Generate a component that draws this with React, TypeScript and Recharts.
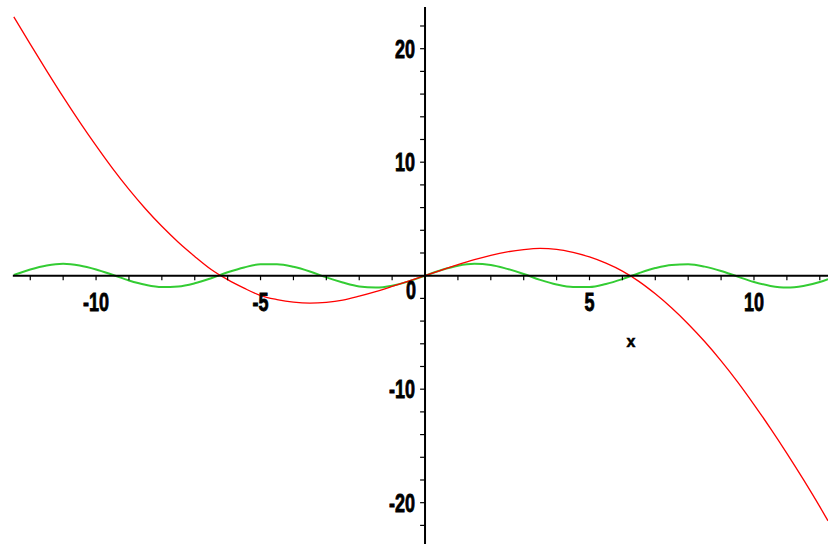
import { LineChart, Line, XAxis, YAxis, ReferenceLine, ReferenceDot } from "recharts";

const xs = [
  -12.5, -12, -11.5, -11, -10.5, -10, -9.5, -9, -8.5, -8, -7.5, -7, -6.5, -6, -5.5, -5, -4.5, -4, -3.5, -3, -2.5, -2,
  -1.5, -1, -0.5, 0, 0.5, 1, 1.5, 2, 2.5, 3, 3.5, 4, 4.5, 5, 5.5, 6, 6.5, 7, 7.5, 8, 8.5, 9, 9.5, 10, 10.5, 11, 11.5,
  12, 12.25,
];

const redValues = [
  22.8, 20.4, 18.05, 15.75, 13.55, 11.45, 9.45, 7.6, 5.9, 4.35, 2.95, 1.7, 0.55, -0.35, -1.1, -1.75, -2.1, -2.33, -2.42,
  -2.35, -2.15, -1.8, -1.4, -0.95, -0.48, 0, 0.5, 0.98, 1.42, 1.8, 2.1, 2.3, 2.4, 2.32, 2.05, 1.65, 1.1, 0.4, -0.5,
  -1.6, -2.85, -4.25, -5.8, -7.5, -9.35, -11.35, -13.45, -15.65, -17.95, -20.35, -21.6,
];

const greenValues = [
  0.07, 0.55, 0.9, 1.05, 0.9, 0.55, 0.08, -0.42, -0.8, -1.0, -0.95, -0.67, -0.22, 0.3, 0.73, 1.0, 1.0, 0.78, 0.37,
  -0.15, -0.6, -0.95, -1.05, -0.88, -0.5, 0, 0.5, 0.88, 1.05, 0.95, 0.6, 0.15, -0.37, -0.78, -1.0, -1.0, -0.73, -0.3,
  0.22, 0.67, 0.95, 1.0, 0.8, 0.42, -0.08, -0.55, -0.9, -1.05, -0.9, -0.55, -0.3,
];

const xTicks = [-12, -11, -10, -9, -8, -7, -6, -5, -4, -3, -2, -1, 1, 2, 3, 4, 5, 6, 7, 8, 9, 10, 11, 12];
const yTicks = [-22, -20, -18, -16, -14, -12, -10, -8, -6, -4, -2, 2, 4, 6, 8, 10, 12, 14, 16, 18, 20, 22];
const xLabels = [-10, -5, 5, 10];
const yLabels = [-20, -10, 10, 20];

const data = xs.map((x, i) => ({ x, red: redValues[i], green: greenValues[i] }));

const X_DOMAIN: [number, number] = [-12.92, 12.25];
const Y_DOMAIN: [number, number] = [-23.64, 24.29];

const labelFont = {
  fontFamily: "Liberation Sans, Arial, sans-serif",
  fontWeight: 700,
  fontSize: 25,
  fill: "#000",
  stroke: "#000",
  strokeWidth: 0.8,
};

function makeLabel(text: string, dx: number, dy: number, anchor: "start" | "middle" | "end") {
  return (p: any) => (
    <g transform={`translate(${p.cx + dx},${p.cy + dy}) scale(0.72,1)`}>
      <text x={0} y={0} textAnchor={anchor} style={labelFont}>
        {text}
      </text>
    </g>
  );
}

export default function App() {
  return (
    <div style={{ position: "absolute", left: 0, top: 0, width: 828, height: 544, background: "#fff" }}>
      <LineChart width={828} height={544} data={data} margin={{ top: 0, right: 0, bottom: 0, left: 0 }}>
        <XAxis type="number" dataKey="x" domain={X_DOMAIN} allowDataOverflow hide />
        <YAxis type="number" domain={Y_DOMAIN} allowDataOverflow hide />

        <Line
          dataKey="green"
          stroke="#33cc33"
          strokeWidth={2}
          dot={false}
          activeDot={false}
          type="monotone"
          isAnimationActive={false}
        />
        <Line
          dataKey="red"
          stroke="#ff0000"
          strokeWidth={1.3}
          dot={false}
          activeDot={false}
          type="monotone"
          isAnimationActive={false}
        />

        {/* axes through the origin */}
        <ReferenceLine
          segment={[
            { x: -12.53, y: 0 },
            { x: 12.25, y: 0 },
          ]}
          stroke="#000"
          strokeWidth={2}
        />
        <ReferenceLine
          segment={[
            { x: 0, y: 23.67 },
            { x: 0, y: -23.64 },
          ]}
          stroke="#000"
          strokeWidth={2}
        />

        {xTicks.map((t) => (
          <ReferenceLine
            key={`xt${t}`}
            segment={[
              { x: t, y: 0 },
              { x: t, y: -0.4 },
            ]}
            stroke="#000"
            strokeWidth={1.2}
          />
        ))}
        {yTicks.map((t) => (
          <ReferenceLine
            key={`yt${t}`}
            segment={[
              { x: 0, y: t },
              { x: -0.15, y: t },
            ]}
            stroke="#000"
            strokeWidth={1.2}
          />
        ))}

        {xLabels.map((v) => (
          <ReferenceDot key={`xl${v}`} x={v} y={0} r={0} shape={makeLabel(String(v), 0, 35, "middle")} />
        ))}
        {yLabels.map((v) => (
          <ReferenceDot key={`yl${v}`} x={0} y={v} r={0} shape={makeLabel(String(v), -10, 9, "end")} />
        ))}
        <ReferenceDot x={0} y={0} r={0} shape={makeLabel("0", -9, 23, "end")} />
        <ReferenceDot
          x={6.26}
          y={0}
          r={0}
          shape={(p: any) => (
            <text
              x={p.cx}
              y={p.cy + 71}
              textAnchor="middle"
              style={{
                fontFamily: "Liberation Sans, Arial, sans-serif",
                fontWeight: 700,
                fontSize: 16,
                fill: "#000",
                stroke: "#000",
                strokeWidth: 0.5,
              }}
            >
              x
            </text>
          )}
        />
      </LineChart>
    </div>
  );
}
